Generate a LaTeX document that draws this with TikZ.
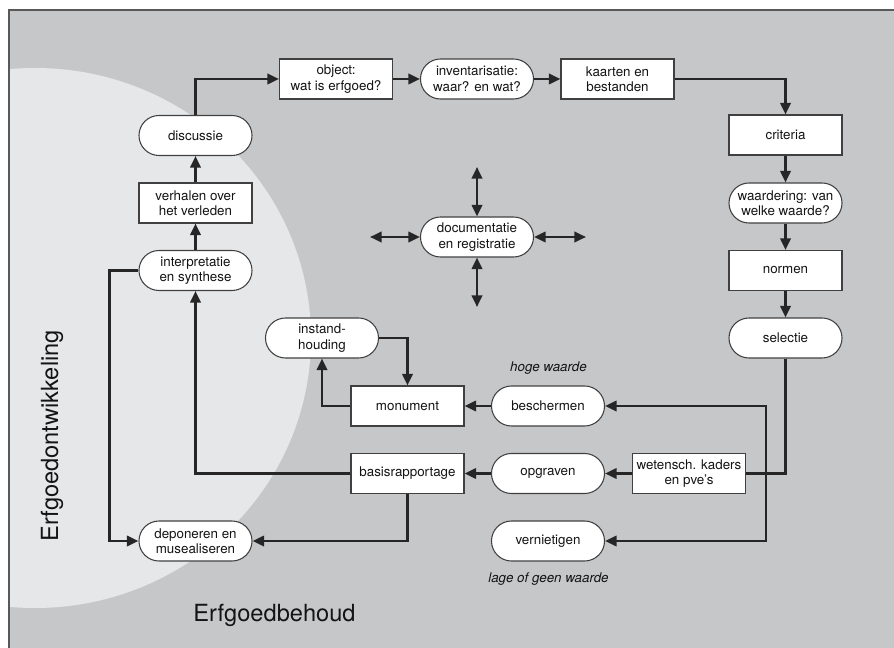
\documentclass[tikz,border=0pt]{standalone}
\usepackage{fontspec}
\setmainfont{TeX Gyre Heros}
\usepackage{tikz}
\usetikzlibrary{arrows.meta, positioning}

\definecolor{bggray}{RGB}{198,199,201}
\definecolor{circlegray}{RGB}{230,231,233}

\begin{document}
\begin{tikzpicture}[
    x=0.025cm, y=-0.025cm,
    every node/.style={font=\fontsize{9.5}{11}\selectfont, text=black!92},
    box/.style={rectangle, draw=black!75, fill=white, line width=0.75pt, minimum width=2.825cm, minimum height=1cm, inner sep=0pt, align=center},
    pill/.style={box, rounded corners=0.5cm},
    arrow/.style={-{Triangle[length=0.29cm, width=0.26cm]}, line width=1.7pt, draw=black!85},
    twoway/.style={arrow, {Triangle[length=0.29cm, width=0.26cm]}-{Triangle[length=0.29cm, width=0.26cm]}},
    link/.style={line width=1.7pt, draw=black!85},
    bigtext/.style={font=\fontsize{16.8}{20}\selectfont},
    note/.style={font=\fontsize{9.5}{11}\selectfont\itshape}
]

% Background: grey field with light circle
\useasboundingbox (0,0) rectangle (894,648);
\fill[bggray] (9,10) rectangle (894,648);
\begin{scope}
  \clip (9,10) rectangle (894,648);
  \fill[circlegray] (35,338) ellipse [x radius=276, y radius=270];
\end{scope}
\draw[black!65, line width=1.1pt] (9,648) -- (9,10) -- (894,10);

% Top row
\node[box] at (336,79) (object) {object:\\wat is erfgoed?};
\node[pill] at (477,79) (invent) {inventarisatie:\\waar? en wat?};
\node[box] at (617.5,79) (kaarten) {kaarten en\\bestanden};

% Left column
\node[pill] at (195.5,135.5) (discussie) {discussie};
\node[box] at (195.5,203) (verhalen) {verhalen over\\het verleden};
\node[pill] at (195.5,270.5) (interp) {interpretatie\\en synthese};
\node[pill] at (195.5,541) (depon) {deponeren en\\musealiseren};

% Right column
\node[box] at (785.5,135) (criteria) {criteria};
\node[pill] at (785.5,203) (waardering) {waardering: van\\welke waarde?};
\node[box] at (785.5,270.5) (normen) {normen};
\node[pill] at (785.5,338) (selectie) {selectie};

% Centre
\node[pill] at (477,237) (docu) {documentatie\\en registratie};
\coordinate (docW) at (370,237);
\coordinate (docE) at (586,237);
\coordinate (docN) at (477,167);
\coordinate (docS) at (477,307);

% Lower part
\node[pill] at (322,338) (instand) {instand-\\houding};
\node[box] at (407.5,406) (monument) {monument};
\node[box] at (407.5,473.5) (basis) {basisrapportage};
\node[pill] at (548,406) (beschermen) {beschermen};
\node[pill] at (548,473.5) (opgraven) {opgraven};
\node[pill] at (548,541) (vernietigen) {vernietigen};
\node[box] at (689,473.5) (wetensch) {wetensch. kaders\\en pve's};
\coordinate (split) at (766,473.5);

% Labels
\node[note] at (548.5,368) (hoog) {hoge waarde};
\node[note] at (548.5,579) (laag) {lage of geen waarde};
\node[bigtext, rotate=90] at (52,436) (ontw) {Erfgoedontwikkeling};
\node[bigtext] at (274.5,615) (behoud) {Erfgoedbehoud};

% Cycle along the top
\draw[arrow] (discussie) |- (object);
\draw[arrow] (object) -- (invent);
\draw[arrow] (invent) -- (kaarten);
\draw[arrow] (kaarten) -| (criteria);
\draw[arrow] (criteria) -- (waardering);
\draw[arrow] (waardering) -- (normen);
\draw[arrow] (normen) -- (selectie);

% Selection and branches
\draw[link] (selectie) |- (wetensch);
\draw[arrow] (split) |- (beschermen);
\draw[arrow] (split) |- (vernietigen);
\draw[arrow] (wetensch) -- (opgraven);
\draw[arrow] (opgraven) -- (basis);
\draw[arrow] (beschermen) -- (monument);
\draw[arrow] (monument.west) -| (instand.south);
\draw[arrow] (instand.east) -| (monument.north);

% Back to the left column
\draw[arrow] (basis.west) -| (interp.south);
\draw[arrow] (basis.south) |- (depon.east);
\draw[arrow] (interp.west) -- ++(-29,0) |- (depon.west);
\draw[arrow] (interp) -- (verhalen);
\draw[arrow] (verhalen) -- (discussie);

% Documentation in all directions
\draw[twoway] (docW) -- (docu);
\draw[twoway] (docu) -- (docE);
\draw[twoway] (docN) -- (docu);
\draw[twoway] (docu) -- (docS);

\end{tikzpicture}
\end{document}
